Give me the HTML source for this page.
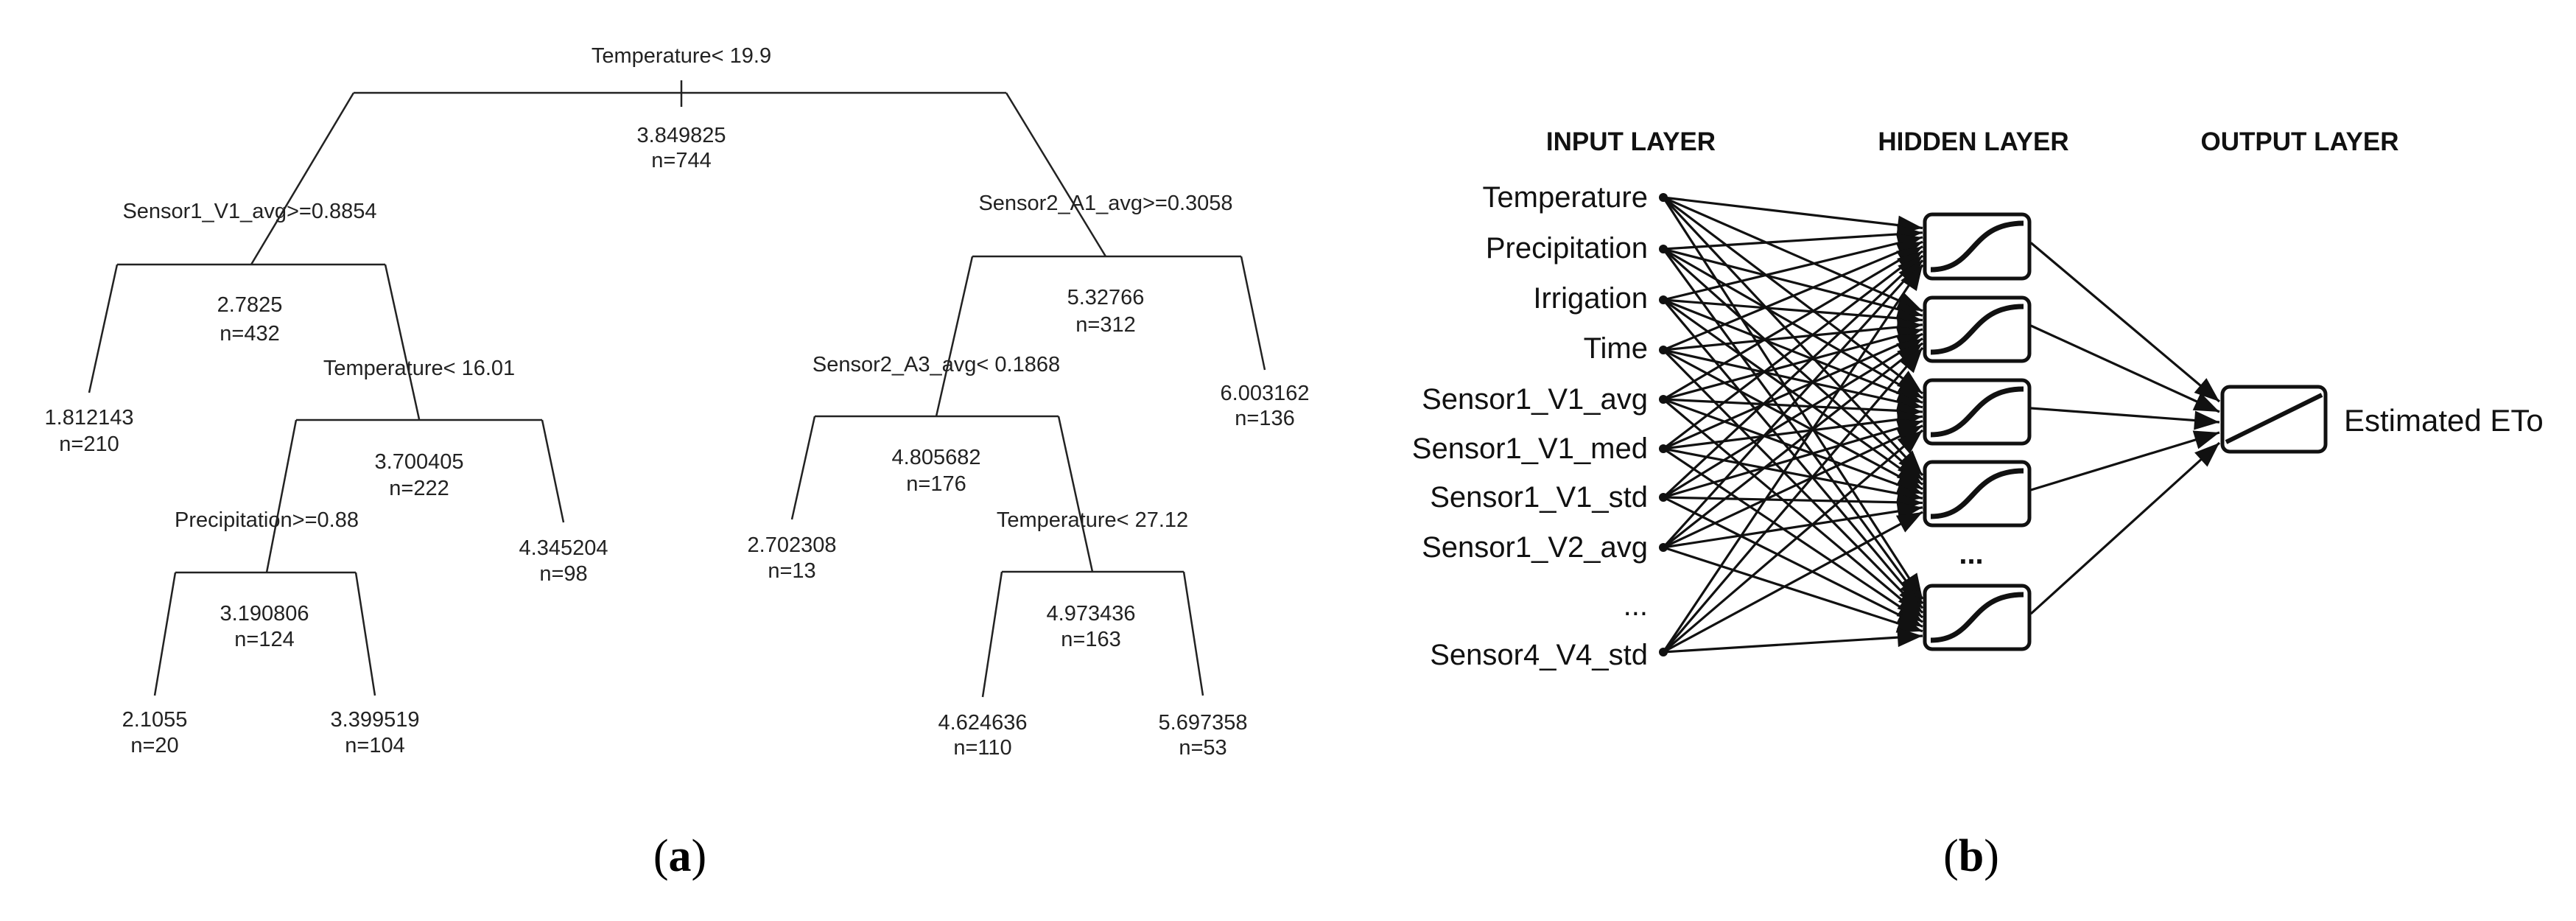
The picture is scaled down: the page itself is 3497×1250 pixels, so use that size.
<!DOCTYPE html>
<html><head><meta charset="utf-8"><style>
html,body{margin:0;padding:0;background:#fff;}
svg{display:block;}
.t{font-family:"Liberation Sans",Arial,sans-serif;font-size:29px;fill:#222;text-anchor:middle;}
.n{font-family:"Liberation Sans",Arial,sans-serif;font-size:40px;fill:#111;text-anchor:end;}
.h{font-family:"Liberation Sans",Arial,sans-serif;font-size:35px;font-weight:bold;fill:#111;text-anchor:middle;}
.c{font-family:"Liberation Serif",serif;font-size:62px;fill:#000;text-anchor:middle;}
</style></head><body>
<svg id="s" width="3497" height="1250" viewBox="0 0 3497 1250" xmlns="http://www.w3.org/2000/svg">
<g stroke="#222" stroke-width="2.5" fill="none">
<line x1="480" y1="126" x2="1366" y2="126"/>
<line x1="925" y1="109" x2="925" y2="145"/>
<line x1="480" y1="126" x2="341" y2="359"/>
<line x1="1366" y1="126" x2="1501" y2="348"/>
<line x1="159" y1="359" x2="523" y2="359"/>
<line x1="159" y1="359" x2="121" y2="533"/>
<line x1="523" y1="359" x2="569" y2="569"/>
<line x1="402" y1="570" x2="736" y2="570"/>
<line x1="736" y1="570" x2="765" y2="709"/>
<line x1="402" y1="570" x2="362" y2="777"/>
<line x1="238" y1="777" x2="483" y2="777"/>
<line x1="238" y1="777" x2="210" y2="944"/>
<line x1="483" y1="777" x2="509" y2="944"/>
<line x1="1320" y1="348" x2="1685" y2="348"/>
<line x1="1685" y1="348" x2="1717" y2="502"/>
<line x1="1320" y1="348" x2="1271" y2="565"/>
<line x1="1106" y1="565" x2="1437" y2="565"/>
<line x1="1106" y1="565" x2="1075" y2="705"/>
<line x1="1437" y1="565" x2="1483" y2="776"/>
<line x1="1360" y1="776" x2="1607" y2="776"/>
<line x1="1360" y1="776" x2="1334" y2="946"/>
<line x1="1607" y1="776" x2="1633" y2="944"/>
</g>
<g class="t">
<text x="925" y="85">Temperature&lt; 19.9</text>
<text x="925" y="193">3.849825</text><text x="925" y="227">n=744</text>
<text x="339" y="296">Sensor1_V1_avg&gt;=0.8854</text>
<text x="339" y="423">2.7825</text><text x="339" y="462">n=432</text>
<text x="121" y="576">1.812143</text><text x="121" y="612">n=210</text>
<text x="569" y="509">Temperature&lt; 16.01</text>
<text x="569" y="636">3.700405</text><text x="569" y="672">n=222</text>
<text x="765" y="753">4.345204</text><text x="765" y="788">n=98</text>
<text x="362" y="715">Precipitation&gt;=0.88</text>
<text x="359" y="842">3.190806</text><text x="359" y="877">n=124</text>
<text x="210" y="986">2.1055</text><text x="210" y="1021">n=20</text>
<text x="509" y="986">3.399519</text><text x="509" y="1021">n=104</text>
<text x="1501" y="285">Sensor2_A1_avg&gt;=0.3058</text>
<text x="1501" y="413">5.32766</text><text x="1501" y="450">n=312</text>
<text x="1717" y="543">6.003162</text><text x="1717" y="577">n=136</text>
<text x="1271" y="504">Sensor2_A3_avg&lt; 0.1868</text>
<text x="1271" y="630">4.805682</text><text x="1271" y="666">n=176</text>
<text x="1075" y="749">2.702308</text><text x="1075" y="784">n=13</text>
<text x="1483" y="715">Temperature&lt; 27.12</text>
<text x="1481" y="842">4.973436</text><text x="1481" y="877">n=163</text>
<text x="1334" y="990">4.624636</text><text x="1334" y="1024">n=110</text>
<text x="1633" y="990">5.697358</text><text x="1633" y="1024">n=53</text>
</g>
<text class="c" x="923" y="1182">(<tspan font-weight="bold">a</tspan>)</text>
<text class="c" x="2676" y="1182">(<tspan font-weight="bold">b</tspan>)</text>
<text class="h" x="2214" y="204">INPUT LAYER</text>
<text class="h" x="2679" y="204">HIDDEN LAYER</text>
<text class="h" x="3122" y="204">OUTPUT LAYER</text>
<g class="n">
<text x="2237" y="281">Temperature</text>
<text x="2237" y="350">Precipitation</text>
<text x="2237" y="418">Irrigation</text>
<text x="2237" y="486">Time</text>
<text x="2237" y="555">Sensor1_V1_avg</text>
<text x="2237" y="622">Sensor1_V1_med</text>
<text x="2237" y="688">Sensor1_V1_std</text>
<text x="2237" y="756">Sensor1_V2_avg</text>
<text x="2237" y="835">...</text>
<text x="2237" y="902">Sensor4_V4_std</text>
</g>
<text x="2676" y="765" style="font-family:'Liberation Sans',sans-serif;font-size:40px;font-weight:bold;text-anchor:middle;fill:#111">...</text>
<text x="3182" y="585" style="font-family:'Liberation Sans',sans-serif;font-size:42px;fill:#111">Estimated ETo</text>
<g id="lines" stroke="#111" stroke-width="3.2"></g>
<g id="boxes"></g>
</svg>
<script>
var NS="http://www.w3.org/2000/svg";
var L=document.getElementById("lines"),B=document.getElementById("boxes");
function el(p,t,a){var e=document.createElementNS(NS,t);for(var k in a)e.setAttribute(k,a[k]);p.appendChild(e);return e;}
var iy=[268,338,407,475,542,609,675,743,885];
var hy=[[291,378],[404,490],[516,602],[627,713],[795,881]];
var hx1=2613,hx2=2755;
function arrow(x1,y1,x2,y2,s,w){
 el(L,"line",{x1:x1,y1:y1,x2:x2,y2:y2});
 var dx=x2-x1,dy=y2-y1,d=Math.sqrt(dx*dx+dy*dy),ux=dx/d,uy=dy/d;
 var bx=x2-ux*s,by=y2-uy*s;
 el(L,"polygon",{points:x2+","+y2+" "+(bx-uy*w)+","+(by+ux*w)+" "+(bx+uy*w)+","+(by-ux*w),fill:"#111",stroke:"none"});
}
for(var i=0;i<iy.length;i++){
 el(L,"circle",{cx:2258,cy:iy[i],r:6,fill:"#111",stroke:"none"});
 for(var j=0;j<hy.length;j++){
  var c=(hy[j][0]+hy[j][1])/2;
  var ty=c-25+50*i/(iy.length-1);
  arrow(2258,iy[i],hx1-3,ty,34,13);
 }
}
for(var j=0;j<hy.length;j++){
 var c=(hy[j][0]+hy[j][1])/2;
 arrow(hx2+2,c-5,3013,545+j*14,34,13);
 el(B,"rect",{x:hx1,y:hy[j][0],width:hx2-hx1,height:hy[j][1]-hy[j][0],rx:10,fill:"#fff",stroke:"#111","stroke-width":5});
 var y0=hy[j][0],y1=hy[j][1];
 el(B,"path",{d:"M"+(hx1+8)+","+(y1-12)+" C"+(hx1+70)+","+(y1-12)+" "+(hx1+60)+","+(y0+12)+" "+(hx2-8)+","+(y0+12),fill:"none",stroke:"#111","stroke-width":7});
}
el(B,"rect",{x:3017,y:525,width:140,height:88,rx:10,fill:"#fff",stroke:"#111","stroke-width":5});
el(B,"line",{x1:3022,y1:600,x2:3152,y2:536,stroke:"#111","stroke-width":6});
</script>
</body></html>
